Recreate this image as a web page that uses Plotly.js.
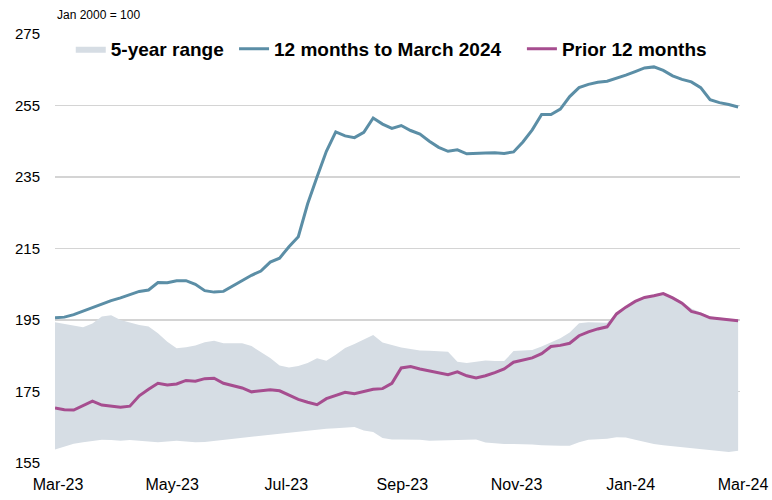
<!DOCTYPE html>
<html>
<head>
<meta charset="utf-8">
<script src="https://cdn.plot.ly/plotly-3.0.1.min.js"></script>
<style>html,body{margin:0;padding:0;background:#fff;}#chart{width:772px;height:500px;}</style>
</head>
<body>
<div id="chart"></div>
<script>
// Sampling grid: every 5 days from 1 Mar 2023
const startDate = '2023-03-01';
const stepDays = 5;

const tickVals = ['2023-03-01','2023-05-01','2023-07-01','2023-09-01','2023-11-01','2024-01-01','2024-03-01'];
const tickText = ['Mar-23','May-23','Jul-23','Sep-23','Nov-23','Jan-24','Mar-24'];

const seriesNames = ['5-year range', '12 months to March 2024', 'Prior 12 months'];

const last12 = [195.6,195.8,196.5,197.5,198.3,199.4,200.4,201.2,202.0,203.0,
  203.4,205.5,205.4,206.0,206.0,205.0,203.2,202.8,203.0,204.5,
  206.0,207.5,208.7,211.2,212.3,215.5,218.3,227.5,235.0,242.2,
  247.6,246.5,246.0,247.5,251.5,249.8,248.6,249.4,248.0,247.0,
  245.0,243.3,242.2,242.6,241.5,241.7,241.7,241.8,241.6,242.0,
  244.8,248.2,252.5,252.5,254.0,257.5,260.0,260.9,261.5,261.8,
  262.6,263.5,264.5,265.5,265.8,264.8,263.3,262.3,261.6,260.0,
  256.6,255.8,255.3,254.6];

const prior12 = [170.4,169.9,169.8,171.0,172.3,171.2,170.8,170.6,170.9,173.8,
  175.6,177.3,176.8,177.1,178.1,177.9,178.6,178.7,177.3,176.7,
  176.0,174.9,175.2,175.5,175.2,174.0,172.8,172.0,171.3,173.0,
  173.9,174.8,174.4,175.0,175.6,175.8,177.3,181.6,182.0,181.3,
  180.8,180.2,179.7,180.5,179.4,178.8,179.4,180.3,181.3,183.2,
  183.8,184.4,185.6,187.6,187.9,188.5,190.6,191.7,192.5,193.1,
  196.7,198.6,200.2,201.3,201.8,202.4,201.2,199.7,197.4,196.7,
  195.6,195.4,195.2,194.8];

const rangeHigh = [194.4,194.0,193.6,193.0,194.0,196.0,196.3,195.0,194.3,193.6,
  193.2,191.3,188.9,187.1,187.4,187.9,188.8,189.2,188.5,188.6,
  188.5,187.7,186.1,184.4,182.3,181.7,182.1,183.0,184.3,183.6,
  185.3,187.2,188.3,189.5,190.8,188.7,188.0,187.3,186.9,186.5,
  186.4,186.3,186.1,183.3,183.0,183.3,183.7,183.5,183.5,186.3,
  186.4,186.6,187.6,188.7,189.9,191.5,194.1,194.4,194.3,194.2,
  196.9,198.8,200.4,201.5,202.1,202.7,201.6,200.2,198.2,197.2,
  196.0,195.7,195.4,195.0];

const rangeLow = [158.8,159.7,160.4,160.8,161.1,161.5,161.4,161.2,161.4,161.2,
  161.0,160.8,161.0,161.2,161.0,160.8,160.9,161.2,161.5,161.7,
  162.0,162.3,162.6,163.0,163.3,163.6,163.9,164.1,164.3,164.6,
  164.7,164.9,165.1,164.1,163.7,162.0,161.6,161.6,161.6,161.5,
  161.2,161.3,161.5,161.6,161.6,161.6,160.7,160.4,160.3,160.3,
  160.3,160.2,160.0,159.8,159.8,159.8,160.8,161.5,161.6,161.8,
  162.2,162.1,161.5,160.9,160.3,160.0,159.7,159.4,159.1,158.8,
  158.5,158.2,158.1,158.4];

const dates = last12.map((_, i) => {
  const d = new Date(startDate + 'T00:00:00Z');
  d.setUTCDate(d.getUTCDate() + i * stepDays);
  return d.toISOString().slice(0, 10);
});

const FONT = 'Liberation Sans, Arial, sans-serif';
const NB = '\u00a0';

const traces = [
  {x: dates, y: rangeLow, type: 'scatter', mode: 'lines', line: {width: 0, color: '#d6dde4'},
   showlegend: false, hoverinfo: 'skip'},
  {x: dates, y: rangeHigh, type: 'scatter', mode: 'lines', fill: 'tonexty', fillcolor: '#d6dde4',
   line: {width: 0, color: '#d6dde4'}, name: seriesNames[0] + NB},
  {x: dates, y: last12, type: 'scatter', mode: 'lines', line: {color: '#5b8ea6', width: 3},
   name: seriesNames[1] + NB + NB + NB},
  {x: dates, y: prior12, type: 'scatter', mode: 'lines', line: {color: '#a64d8f', width: 3},
   name: seriesNames[2]}
];

const layout = {
  width: 772, height: 500,
  margin: {l: 55, r: 32, t: 34, b: 37},
  paper_bgcolor: '#ffffff', plot_bgcolor: '#ffffff',
  font: {family: FONT, color: '#000000'},
  showlegend: true,
  legend: {orientation: 'h', x: 0.023, xanchor: 'left', y: 0.965, yanchor: 'middle',
    bgcolor: 'rgba(0,0,0,0)', font: {size: 19, weight: 700, family: FONT, color: '#000'},
    traceorder: 'normal', itemwidth: 30},
  xaxis: {type: 'date', range: ['2023-03-01', '2024-03-01'], tickvals: tickVals, ticktext: tickText,
    showgrid: false, zeroline: false, showline: false, ticks: '',
    tickfont: {size: 16, family: FONT, color: '#000'}, ticklabelshift: 3, ticklabelstandoff: 10},
  yaxis: {range: [155, 275], tick0: 155, dtick: 20, showgrid: true, gridcolor: '#d4d4d4', gridwidth: 1.5,
    zeroline: false, showline: false, ticks: '', ticklabelstandoff: 14,
    tickfont: {size: 15, family: FONT, color: '#000'}},
  annotations: [{text: 'Jan 2000 = 100', xref: 'paper', yref: 'paper', x: 0, y: 1.044,
    xanchor: 'left', yanchor: 'middle', showarrow: false, font: {size: 12, family: FONT, color: '#000'}}]
};

Plotly.newPlot('chart', traces, layout, {displayModeBar: false, staticPlot: true});
</script>
</body>
</html>
